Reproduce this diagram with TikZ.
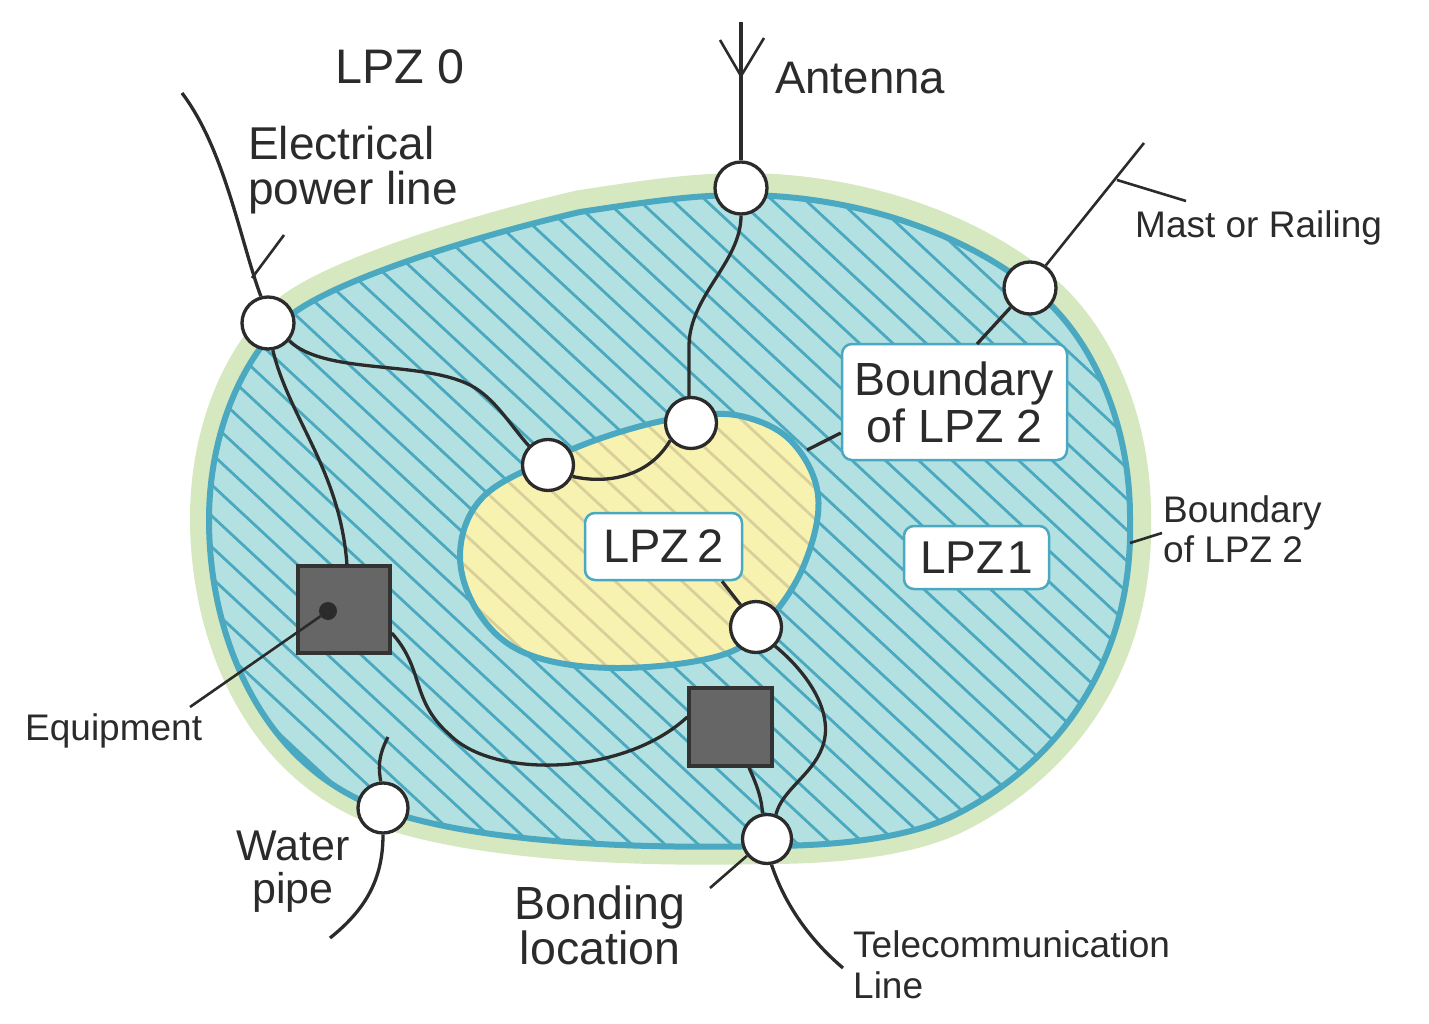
\documentclass[tikz,border=0pt]{standalone}
\usepackage{fontspec}
\setmainfont{Liberation Sans}
\definecolor{ink}{HTML}{2B2B2B}
\definecolor{rim}{HTML}{4AA9C0}
\definecolor{zoneone}{HTML}{B3E1E1}
\definecolor{halo}{HTML}{D5E8BF}
\definecolor{zonetwo}{HTML}{F8F2B0}
\definecolor{tanhatch}{HTML}{D9CF9A}
\definecolor{boxgrey}{HTML}{666666}
\definecolor{boxedge}{HTML}{333333}
\newcommand{\outerzone}{(741,195) .. controls (851,195) and (965,231) .. (1040,295) .. controls (1095,342) and (1130,427) .. (1130,517) .. controls (1134,660) and (1060,762) .. (955,815) .. controls (905,840) and (827,846) .. (767,846) .. controls (600,850) and (440,838) .. (360,800) .. controls (255,750) and (209,630) .. (209,520) .. controls (209,430) and (245,350) .. (295,312) .. controls (340,280) and (460,240) .. (580,212) .. controls (640,203) and (690,195) .. (741,195) -- cycle}
\newcommand{\innerzone}{plot[smooth cycle,tension=0.62] coordinates {(691,416) (745,417) (792,442) (818,495) (806,560) (772,616) (725,654) (620,668) (530,655) (480,615) (460,555) (482,498) (548,460) (620,432)}}
\newcommand{\hatchlines}[1]{\foreach \i in {-45,...,30}{\pgfmathsetmacro{\c}{9+31*\i}\draw[#1,line width=2.8pt] (150,\c+139.5) -- (1200,\c+1116);}}
\newcommand{\fs}[2]{\fontsize{#1}{#2}\selectfont}
\tikzset{
  wire/.style={draw=ink,line width=3.3pt},
  thin wire/.style={draw=ink,line width=2.6pt},
  port/.style={circle,draw=ink,line width=3.3pt,fill=white,inner sep=0pt,minimum size=#1},
  unit/.style={rectangle,draw=boxedge,line width=3.5pt,fill=boxgrey,inner sep=0pt},
  tag/.style={rectangle,rounded corners=10pt,draw=rim,line width=2.5pt,fill=white,inner sep=0pt,text=ink,align=center},
  txt/.style={inner sep=0pt,text=ink,anchor=base west,align=left},
}
\begin{document}
\begin{tikzpicture}[x=1pt,y=-1pt]
\useasboundingbox (0,0) rectangle (1429,1024);
% zones
\draw[halo,line width=40pt,xshift=1pt,yshift=2pt] \outerzone;
\fill[zoneone] \outerzone;
\begin{scope}
\clip \outerzone;
\hatchlines{rim}
\end{scope}
\fill[zonetwo] \innerzone;
\begin{scope}
\clip \innerzone;
\hatchlines{tanhatch}
\end{scope}
\draw[rim,line width=6pt] \outerzone;
\draw[rim,line width=6pt] \innerzone;
% ports and units
\node[port=52pt] (pw) at (268,323) {};
\node[port=52pt] (an) at (741,188) {};
\node[port=52pt] (ma) at (1030,288) {};
\node[port=51pt] (ia) at (548,465) {};
\node[port=51pt] (ib) at (691,423) {};
\node[port=51pt] (ic) at (756,627) {};
\node[port=49pt] (bo) at (767,839) {};
\node[port=50pt] (wa) at (383,808) {};
\node[unit,minimum width=92pt,minimum height=87pt] (eqa) at (344,609.5) {};
\node[unit,minimum width=83pt,minimum height=78pt] (eqb) at (730.5,727) {};
\node[circle,fill=ink,inner sep=0pt,minimum size=18pt] (dot) at (328,611) {};
% free ends
\coordinate (pwtop) at (182,93);
\coordinate (pwbr) at (284,235);
\coordinate (pwjoin) at (252,278);
\coordinate (antop) at (741,22);
\coordinate (anl) at (720,40);
\coordinate (anm) at (741,76);
\coordinate (anr) at (764,38);
\coordinate (matop) at (1144,143);
\coordinate (mabr) at (1186,201);
\coordinate (majoin) at (1117,180);
\coordinate (eqend) at (190,707);
\coordinate (watop) at (388,737);
\coordinate (wabot) at (330,938);
\coordinate (teend) at (843,968);
\coordinate (boend) at (710,888);
\coordinate (rimin) at (807,450);
\coordinate (rimout) at (1130,543);
\coordinate (rimlab) at (1162,533);
% labels in boxes
\node[tag,minimum width=225pt,minimum height=116pt,font=\fs{46.5}{47}] (bl) at (954.5,402) {Boundary\\of LPZ 2};
\node[tag,minimum width=157pt,minimum height=67pt,font=\fs{47}{48}] (l2) at (663.5,546.5) {LPZ\hspace{.17em}2};
\node[tag,minimum width=145pt,minimum height=63pt,font=\fs{46}{48}] (l1) at (976.5,557.5) {LPZ\hspace{.05em}1};
% connectors
\draw[wire] (pwtop) .. controls (225,150) and (240,240) .. (pw.105);
\draw[thin wire] (pwbr) -- (pwjoin);
\draw[wire] (antop) -- (an.north);
\draw[thin wire,line join=miter] (anl) -- (anm) -- (anr);
\draw[wire] (an.south) .. controls (741,262) and (690,295) .. (689,345) -- (ib.north -| 689,0);
\draw[thin wire] (matop) -- (ma.55);
\draw[thin wire] (mabr) -- (majoin);
\draw[wire] (ma.225) -- (977,344);
\draw[wire] (bl.west |- 0,433) -- (rimin);
\draw[thin wire] (rimlab) -- (rimout);
\draw[wire] (pw.-40) .. controls (325,375) and (420,360) .. (470,385) .. controls (495,398) and (510,425) .. (ia.135);
\draw[wire] (pw.-80) .. controls (290,420) and (340,470) .. (347,565);
\draw[wire] (ia.-25) .. controls (610,485) and (650,475) .. (ib.-140);
\draw[wire] (l2.south -| 722,0) -- (ic.125);
\draw[wire] (eqa.east |- 0,633) .. controls (425,670) and (410,700) .. (450,735) .. controls (495,780) and (625,775) .. (eqb.west |- 0,717);
\draw[wire] (eqb.south -| 749,0) .. controls (757,785) and (762,800) .. (bo.100);
\draw[wire] (ic.-45) .. controls (810,675) and (835,715) .. (822,748) .. controls (812,775) and (782,790) .. (bo.70);
\draw[wire] (watop) .. controls (377,758) and (379,770) .. (wa.95);
\draw[wire] (wa.south) .. controls (383,880) and (365,910) .. (wabot);
\draw[wire] (bo.-80) .. controls (785,905) and (810,940) .. (teend);
\draw[thin wire] (bo.-140) -- (boend);
\draw[thin wire] (dot) -- (eqend);
% free labels
\node[txt,font=\fs{48.5}{48}] (t0) at (335,84) {LPZ 0};
\node[txt,font=\fs{45.6}{48}] (t1) at (775,94) {Antenna};
\node[txt,font=\fs{46}{45}] (t2) at (248,205) {Electrical\\power line};
\node[txt,font=\fs{37}{40}] (t3) at (1135,238) {Mast or Railing};
\node[txt,font=\fs{37}{40}] (t4) at (1163,562) {Boundary\\of LPZ 2};
\node[txt,font=\fs{37}{40}] (t5) at (25,740) {Equipment};
\node[txt,font=\fs{43}{43},align=center,anchor=base] (t6) at (293,903) {Water\\pipe};
\node[txt,font=\fs{46.5}{45},align=center,anchor=base] (t7) at (600,964) {Bonding\\location};
\node[txt,font=\fs{37}{41}] (t8) at (853,998) {Telecommunication\\Line};
\end{tikzpicture}
\end{document}
